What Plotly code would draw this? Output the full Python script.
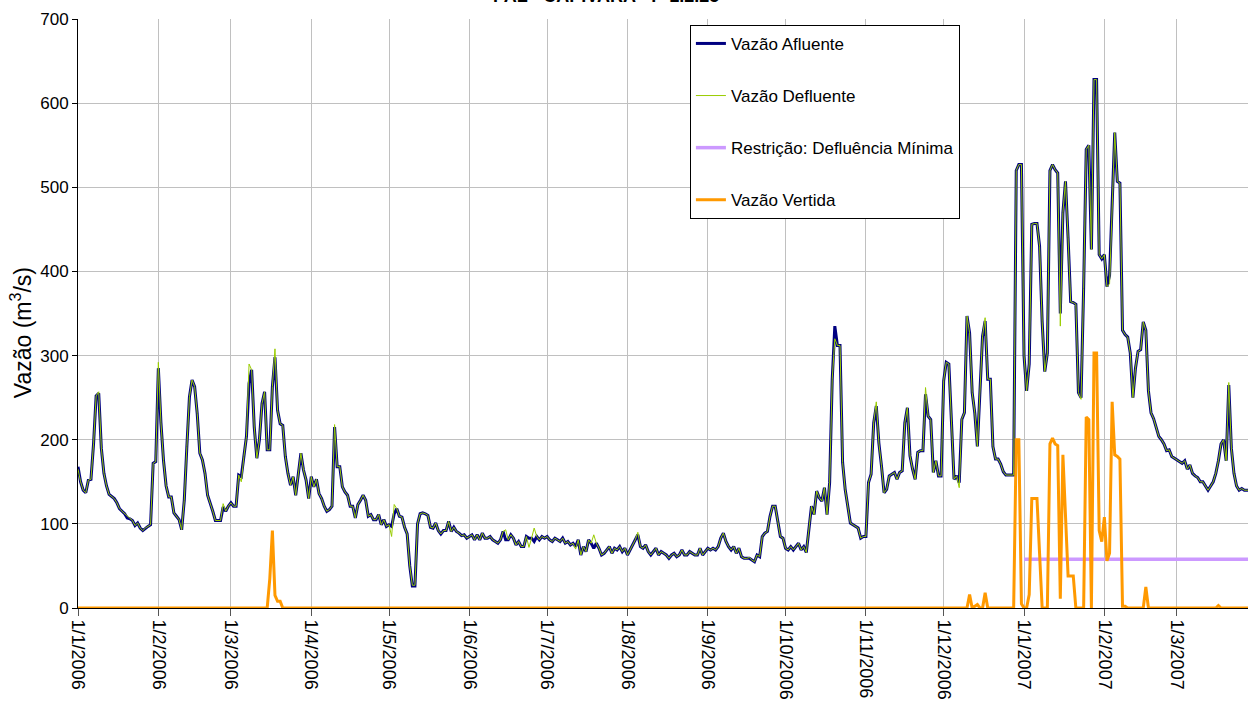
import pandas as pd
import plotly.graph_objects as go

START = "2006-01-01"

# Vazão Afluente (m3/s), daily, by month
afl_jan06 = [168,150,140,137,152,153,195,252,255,190,160,145,135,133,130,125,118,115,112,107,106,104,98,101,95,92,95,97,99,172,174]
afl_feb06 = [285,220,175,145,132,132,113,109,105,93,128,192,251,271,263,231,184,176,160,134,125,115,104,104,104,120,115,121]
afl_mar06 = [125,121,121,158,156,180,204,267,283,215,178,200,243,257,188,188,263,298,235,219,217,180,160,146,156,134,160,184,164,152,130]
afl_apr06 = [156,144,153,136,130,121,115,117,121,215,168,168,144,138,134,121,121,107,123,128,134,128,109,111,105,105,111,99,105,97]
afl_may06 = [99,97,112,118,109,108,96,88,50,26,26,100,112,113,112,110,96,95,101,92,88,92,92,103,91,96,91,89,86,87,83]
afl_jun06 = [85,87,81,87,81,89,83,83,85,81,79,77,81,91,81,81,87,83,75,79,73,73,85,83,83,79,85,81,85,83]
afl_jul06 = [85,81,79,83,81,79,83,77,79,75,77,73,81,63,73,67,81,77,71,77,71,63,65,69,73,65,71,69,73,67,71]
afl_aug06 = [63,69,75,81,87,73,71,75,67,63,67,71,63,67,65,63,59,63,65,61,63,69,63,63,67,65,63,63,71,63,67]
afl_sep06 = [71,69,71,69,73,83,89,79,73,69,73,65,71,61,59,59,59,57,55,63,61,85,89,91,109,121,121,103,85,83]
afl_oct06 = [71,69,73,69,73,77,69,73,66,95,121,111,139,131,127,143,111,149,272,335,312,312,173,141,121,101,99,97,95,83,85]
afl_nov06 = [85,149,159,220,240,196,169,137,141,157,159,161,153,161,163,220,238,181,165,153,185,187,187,254,228,224,161,175,157,157]
afl_dec06 = [270,292,290,224,153,157,149,224,232,347,327,256,232,192,256,323,341,272,272,192,177,177,171,162,158,158,158,158,520,527,527]
afl_jan07 = [300,258,290,456,457,457,430,340,281,303,520,527,521,517,350,470,507,440,364,363,361,256,250,380,545,550,426,628,628,420,415]
afl_feb07 = [420,382,395,480,565,507,505,330,325,322,303,250,285,305,307,340,330,258,232,225,215,204,200,195,187,188,180,178]
afl_mar07 = [175,173,172,175,165,170,160,157,155,150,150,145,140,145,150,160,175,195,200,175,265,190,160,145,140,142,140,140,140]

# Vazão Defluente (m3/s), daily, by month
def_jan06 = [165,150,140,137,152,153,195,252,257,190,160,145,135,133,130,125,118,115,112,110,106,104,98,101,95,92,95,97,99,172,174]
def_feb06 = [292,220,175,145,132,132,113,109,105,93,128,192,251,271,263,231,184,176,160,134,125,115,104,104,104,124,115,121]
def_mar06 = [125,121,121,158,150,180,204,290,283,215,178,200,243,257,188,188,263,308,235,219,217,180,160,146,156,134,160,184,164,152,130]
def_apr06 = [156,144,153,136,130,121,115,117,121,218,168,168,144,138,134,121,121,107,123,128,134,128,109,111,105,105,111,99,105,97]
def_may06 = [99,85,123,118,109,108,96,88,50,27,27,100,112,113,112,110,96,95,101,92,88,92,92,103,91,96,91,89,86,87,83]
def_jun06 = [85,87,81,87,81,89,83,83,85,81,79,77,81,91,93,81,87,83,75,79,73,73,85,72,83,95,85,81,85,83]
def_jul06 = [85,81,79,83,81,79,83,77,79,75,77,70,81,63,73,67,81,77,87,77,71,63,65,69,73,65,71,69,73,67,71]
def_aug06 = [63,69,75,81,90,73,71,75,67,63,67,71,63,67,65,63,59,63,65,61,63,69,63,63,67,65,63,63,71,63,67]
def_sep06 = [71,69,71,69,73,83,89,79,73,69,73,65,71,61,59,59,60,57,55,63,61,85,89,91,109,121,121,103,85,83]
def_oct06 = [71,69,73,69,73,77,69,73,66,95,121,111,139,131,127,143,111,149,272,320,312,312,173,141,121,101,99,97,95,83,85]
def_nov06 = [85,149,159,220,245,196,169,137,141,157,159,161,153,161,163,220,238,181,165,153,185,187,187,262,228,224,161,175,157,157]
def_dec06 = [270,292,290,224,153,157,143,225,232,347,327,256,232,192,256,323,345,272,272,192,177,177,171,162,158,158,158,158,520,527,527]
def_jan07 = [300,258,290,456,457,457,430,340,281,303,520,527,521,517,335,470,507,440,364,363,361,256,248,380,545,550,426,628,628,420,415]
def_feb07 = [420,382,385,480,565,507,505,330,325,322,303,250,285,305,307,340,330,258,232,225,215,204,200,195,187,188,180,178]
def_mar07 = [175,173,172,175,165,170,160,157,155,150,150,145,140,145,150,160,175,195,200,175,268,190,160,145,140,142,140,140,140]

# Vazão Vertida (m3/s): spill events (zero elsewhere)
vert_dates = ["2006-01-01","2006-03-15","2006-03-16","2006-03-17","2006-03-18","2006-03-19","2006-03-20","2006-03-21",
              "2006-12-10","2006-12-11","2006-12-12","2006-12-14","2006-12-15","2006-12-16","2006-12-17","2006-12-18",
              "2006-12-28","2006-12-29","2006-12-30","2006-12-31","2007-01-01","2007-01-02","2007-01-03","2007-01-04",
              "2007-01-05","2007-01-06","2007-01-07","2007-01-08","2007-01-10","2007-01-11","2007-01-12","2007-01-13",
              "2007-01-14","2007-01-15","2007-01-16","2007-01-17","2007-01-18","2007-01-19","2007-01-20","2007-01-21",
              "2007-01-24","2007-01-25","2007-01-26","2007-01-27","2007-01-28","2007-01-29","2007-01-30","2007-01-31",
              "2007-02-01","2007-02-02","2007-02-03","2007-02-04","2007-02-05","2007-02-06","2007-02-07","2007-02-08",
              "2007-02-09","2007-02-10","2007-02-16","2007-02-17","2007-02-18","2007-03-16","2007-03-17","2007-03-18",
              "2007-03-31"]
vert_values = [0,0,35,92,15,8,8,0,
               0,16,0,4,0,0,18,0,
               0,200,200,5,0,0,16,130,
               130,130,65,0,0,195,202,195,
               193,11,182,114,38,38,38,0,
               0,227,224,0,303,303,92,79,
               108,56,65,245,182,180,177,2,
               2,0,0,25,0,0,3,0,
               0]

# Restrição: Defluência Mínima
restr_dates = ["2007-01-01", "2007-03-31"]
restr_values = [58, 58]

tick_dates = ["2006-01-01","2006-02-01","2006-03-01","2006-04-01","2006-05-01","2006-06-01","2006-07-01",
              "2006-08-01","2006-09-01","2006-10-01","2006-11-01","2006-12-01","2007-01-01","2007-02-01","2007-03-01"]
tick_labels = ["1/1/2006","1/2/2006","1/3/2006","1/4/2006","1/5/2006","1/6/2006","1/7/2006",
               "1/8/2006","1/9/2006","1/10/2006","1/11/2006","1/12/2006","1/1/2007","1/2/2007","1/3/2007"]

afluente = (afl_jan06 + afl_feb06 + afl_mar06 + afl_apr06 + afl_may06 + afl_jun06 + afl_jul06 + afl_aug06 +
            afl_sep06 + afl_oct06 + afl_nov06 + afl_dec06 + afl_jan07 + afl_feb07 + afl_mar07)
defluente = (def_jan06 + def_feb06 + def_mar06 + def_apr06 + def_may06 + def_jun06 + def_jul06 + def_aug06 +
             def_sep06 + def_oct06 + def_nov06 + def_dec06 + def_jan07 + def_feb07 + def_mar07)
dates = pd.date_range(START, periods=len(afluente), freq="D")

FONT = "Liberation Sans Narrow, Arial Narrow, Liberation Sans, Arial, sans-serif"

fig = go.Figure()
fig.add_trace(go.Scatter(x=dates, y=afluente, mode="lines", name="Vazão Afluente", legendgroup="a",
                         line=dict(color="#000080", width=3)))
fig.add_trace(go.Scatter(x=dates, y=defluente, mode="lines", name="Vazão Defluente", legendgroup="b",
                         line=dict(color="#99cc00", width=1)))
fig.add_trace(go.Scatter(x=pd.to_datetime(restr_dates), y=restr_values, mode="lines",
                         name="Restrição: Defluência Mínima", legendgroup="c",
                         line=dict(color="#cc99ff", width=3.5)))
fig.add_trace(go.Scatter(x=pd.to_datetime(vert_dates), y=vert_values, mode="lines", name="Vazão Vertida",
                         legendgroup="d", line=dict(color="#ff9900", width=3), cliponaxis=False))

# chart title (only its lower edge shows at the top of the picture, as in the source)
fig.add_annotation(text="<b>PAL - CAPIVARA - P-1.2.25</b>", xref="paper", yref="paper",
                   x=0.451, y=1.019, xanchor="center", yanchor="bottom", showarrow=False,
                   font=dict(family="Liberation Sans, Arial", size=18, color="black"))

# y-axis title
fig.add_annotation(text="Vazão (m<sup>3</sup>/s)", xref="paper", yref="paper",
                   x=-0.048, y=0.468, xanchor="center", yanchor="middle", textangle=-90, showarrow=False,
                   font=dict(family="Liberation Sans, Arial", size=23, color="black"))

fig.update_layout(
    width=1248, height=718,
    margin=dict(l=78, r=0, t=19, b=110, autoexpand=False),
    paper_bgcolor="white", plot_bgcolor="white",
    font=dict(family=FONT, color="black"),
    showlegend=True,
    legend=dict(x=0.523, y=0.99, xanchor="left", yanchor="top",
                bgcolor="white", bordercolor="black", borderwidth=1,
                font=dict(family=FONT, size=17, color="black"),
                tracegroupgap=27, traceorder="grouped"),
    xaxis=dict(type="date", range=["2006-01-01", "2007-03-28 10:00"], automargin=False,
               tickmode="array", tickvals=tick_dates, ticktext=tick_labels, tickangle=90,
               tickfont=dict(family=FONT, size=18, color="black"),
               showgrid=True, gridcolor="#c0c0c0", gridwidth=1,
               showline=True, linecolor="black", linewidth=1,
               ticks="outside", ticklen=7, tickcolor="#555555", zeroline=False),
    yaxis=dict(range=[0, 700], tickvals=[0, 100, 200, 300, 400, 500, 600, 700], automargin=False,
               tickfont=dict(family=FONT, size=17, color="black"),
               showgrid=True, gridcolor="#c0c0c0", gridwidth=1,
               showline=True, linecolor="black", linewidth=1,
               ticks="outside", ticklen=5, tickcolor="black", zeroline=False),
)

fig.write_html("out.html", config={"displayModeBar": False},
               post_script="document.body.style.margin='0';document.body.style.overflow='hidden';")
